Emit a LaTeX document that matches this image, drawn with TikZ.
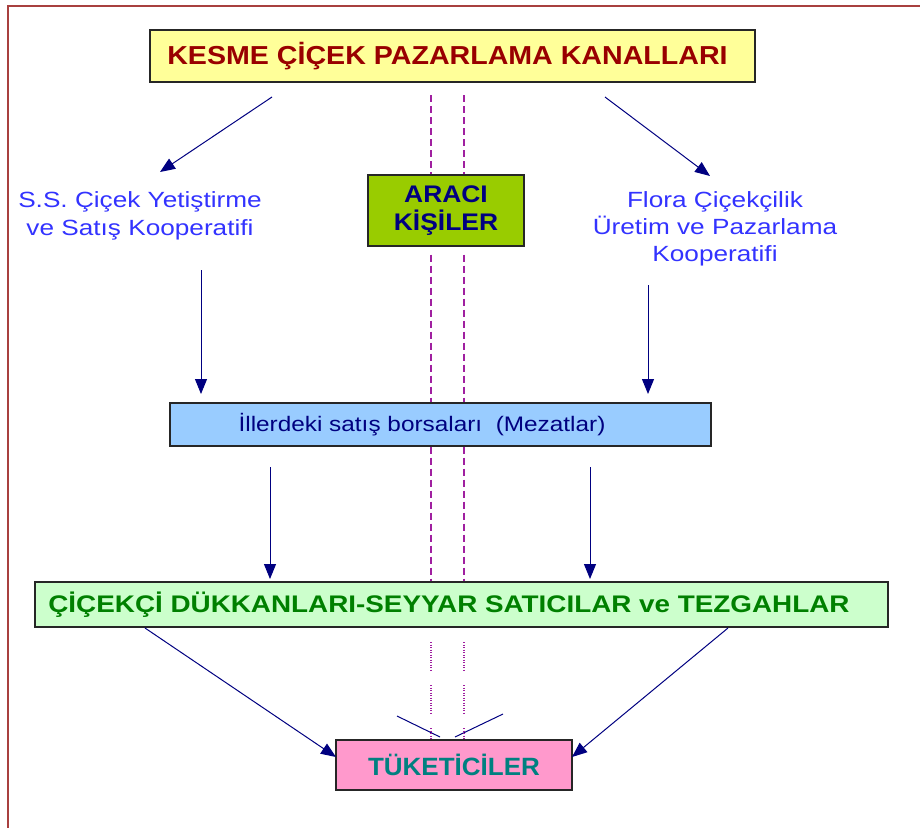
\documentclass[tikz,border=0pt]{standalone}
\usepackage{fontspec}
\setmainfont{Liberation Sans}
\usetikzlibrary{arrows.meta}
\definecolor{frame}{HTML}{A8403F}
\definecolor{navyc}{HTML}{000080}
\definecolor{purp}{HTML}{A020A0}
\definecolor{titlered}{HTML}{990000}
\definecolor{ylw}{HTML}{FFFF99}
\definecolor{lime}{HTML}{99CC00}
\definecolor{lblue}{HTML}{99CCFF}
\definecolor{lgreen}{HTML}{CCFFCC}
\definecolor{pinkc}{HTML}{FF99CC}
\definecolor{bluetxt}{HTML}{3333FF}
\definecolor{greentxt}{HTML}{008000}
\definecolor{tealtxt}{HTML}{008080}
\newcommand{\sxx}[2]{\scalebox{#1}[1]{#2}}
\tikzset{
  box/.style={draw=black!85, line width=1.3pt, inner sep=0pt, anchor=center},
  arr/.style={draw=navyc, line width=1pt, -{Triangle[length=15pt,width=12pt]}},
  plain/.style={draw=navyc, line width=1pt},
  dsh/.style={draw=purp, line width=1.6pt, dash pattern=on 7pt off 4pt},
  dot/.style={draw=purp, line width=1.3pt, dash pattern=on 1pt off 1.5pt},
}
\begin{document}
\begin{tikzpicture}[x=1pt,y=-1pt]
\useasboundingbox (0,0) rectangle (920,828);
\draw[frame, line width=2.2pt] (920,6) -- (8,6) -- (8,828);

\node[box, fill=ylw, minimum width=605pt, minimum height=52pt,
      font=\fontsize{26}{30}\selectfont\bfseries, text=titlered] (title) at (452.5,56)
  {\sxx{1.1}{KESME ÇİÇEK PAZARLAMA KANALLARI}\hspace*{10pt}};
\node[box, fill=lime, minimum width=156pt, minimum height=71pt, align=center,
      font=\fontsize{24}{28}\selectfont\bfseries, text=navyc] (araci) at (446,210.5)
  {\sxx{1.1}{ARACI}\\\sxx{1.1}{KİŞİLER}};
\node[align=center, inner sep=0pt, text=bluetxt, font=\fontsize{22}{28}\selectfont] (ss) at (140,216)
  {\sxx{1.19}{S.S. Çiçek Yetiştirme}\\\sxx{1.19}{ve Satış Kooperatifi}};
\node[align=center, inner sep=0pt, text=bluetxt, font=\fontsize{22}{27}\selectfont] (flora) at (715,229)
  {\sxx{1.19}{Flora Çiçekçilik}\\\sxx{1.19}{Üretim ve Pazarlama}\\\sxx{1.19}{Kooperatifi}};
\node[box, fill=lblue, minimum width=541pt, minimum height=43pt,
      font=\fontsize{21}{24}\selectfont, text=navyc] (ill) at (440.5,424.5)
  {\sxx{1.16}{İllerdeki satış borsaları\ \ (Mezatlar)}\hspace*{37pt}};
\node[box, fill=lgreen, minimum width=853pt, minimum height=45pt,
      font=\fontsize{24}{26}\selectfont\bfseries, text=greentxt] (cicek) at (461.5,604.5)
  {\sxx{1.16}{ÇİÇEKÇİ DÜKKANLARI-SEYYAR SATICILAR ve TEZGAHLAR}\hspace*{25pt}};
\node[box, fill=pinkc, minimum width=236pt, minimum height=50pt,
      font=\fontsize{25}{28}\selectfont\bfseries, text=tealtxt] (tuk) at (454,765)
  {\sxx{1.04}{TÜKETİCİLER}};

% free ends
\coordinate (t1) at (272,97);  \coordinate (s1) at (160,172);
\coordinate (t2) at (605,97);  \coordinate (f1) at (710,176);
\coordinate (s2) at (201,270); \coordinate (i1) at (201,394);
\coordinate (f2) at (648,285); \coordinate (i2) at (648,394);
\coordinate (i3) at (270,467); \coordinate (c1) at (270,579);
\coordinate (i4) at (590,467); \coordinate (c2) at (590,579);
\coordinate (c3) at (145,628); \coordinate (u1) at (336,757);
\coordinate (c4) at (728,628); \coordinate (u2) at (572,757);
\coordinate (x1) at (397,716); \coordinate (x2) at (440,737);
\coordinate (x3) at (503,714); \coordinate (x4) at (455,737);

\draw[arr] (t1) -- (s1);
\draw[arr] (t2) -- (f1);
\draw[arr] (s2) -- (i1);
\draw[arr] (f2) -- (i2);
\draw[arr] (i3) -- (c1);
\draw[arr] (i4) -- (c2);
\draw[arr] (c3) -- (u1);
\draw[arr] (c4) -- (u2);
\draw[plain] (x1) -- (x2);
\draw[plain] (x3) -- (x4);

% dashed vertical lines
\foreach \xx/\nm in {431/l, 464/r}{
  \coordinate (\nm a) at (\xx,95);
  \draw[dsh] (\nm a) -- (araci.north -| \nm a);
  \draw[dsh] ([yshift=-8pt]araci.south -| \nm a) -- (ill.north -| \nm a);
  \draw[dsh] (ill.south -| \nm a) -- (cicek.north -| \nm a);
  \coordinate (\nm b) at (\xx,642);
  \coordinate (\nm c) at (\xx,670);
  \coordinate (\nm d) at (\xx,685);
  \coordinate (\nm e) at (\xx,713);
  \coordinate (\nm f) at (\xx,728);
  \draw[dot] (\nm b) -- (\nm c);
  \draw[dot] (\nm d) -- (\nm e);
  \draw[dot] (\nm f) -- (tuk.north -| \nm f);
}
\end{tikzpicture}
\end{document}
